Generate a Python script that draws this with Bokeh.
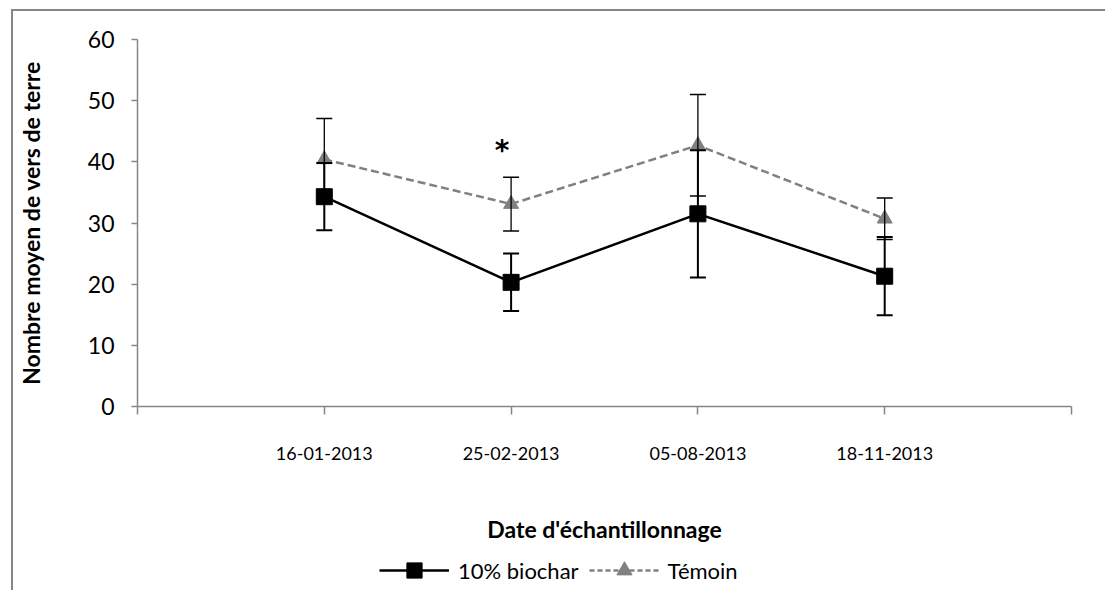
from bokeh.plotting import figure
from bokeh.layouts import column
from bokeh.models import (ColumnDataSource, Whisker, TeeHead, Legend, LegendItem,
                          FixedTicker)
from bokeh.core.properties import value
from bokeh.embed import file_html
from bokeh.resources import INLINE

# Sampling dates and mean earthworm counts (with error bar half-widths)
dates = ["16-01-2013", "25-02-2013", "05-08-2013", "18-11-2013"]
biochar = [34.3, 20.3, 31.5, 21.3]
biochar_err = [5.5, 4.7, 10.4, 6.4]
temoin = [40.4, 33.1, 42.7, 30.7]
temoin_err = [6.7, 4.4, 8.3, 3.4]
signif = ["", "*", "", ""]

FONT = "Lato"
AXIS_GREY = "#868686"
SERIES_GREY = "#808080"

xs = list(range(1, len(dates) + 1))

src_b = ColumnDataSource(dict(
    x=xs, y=biochar,
    lo=[v - e for v, e in zip(biochar, biochar_err)],
    hi=[v + e for v, e in zip(biochar, biochar_err)],
))
src_t = ColumnDataSource(dict(
    x=xs, y=temoin,
    lo=[v - e for v, e in zip(temoin, temoin_err)],
    hi=[v + e for v, e in zip(temoin, temoin_err)],
))

p = figure(width=1092, height=539, output_backend="svg", toolbar_location=None,
           x_range=(0, len(dates) + 1), y_range=(0, 60),
           min_border_left=123, min_border_right=34, min_border_top=28,
           min_border_bottom=144)
p.outline_line_color = None
p.xgrid.visible = False
p.ygrid.visible = False
p.background_fill_color = "white"
p.border_fill_color = "white"

# y axis
ya = p.yaxis[0]
ya.ticker = FixedTicker(ticks=list(range(0, 61, 10)))
ya.axis_line_color = AXIS_GREY
ya.axis_line_width = 1.5
ya.major_tick_line_color = AXIS_GREY
ya.major_tick_line_width = 1.5
ya.major_tick_out = 6
ya.major_tick_in = 0
ya.minor_tick_line_color = None
ya.major_label_text_font = FONT
ya.major_label_text_font_size = "23px"
ya.major_label_text_color = "black"
ya.major_label_standoff = 17
ya.axis_label = "Nombre moyen de vers de terre"
ya.axis_label_text_font = FONT
ya.axis_label_text_font_size = "23px"
ya.axis_label_text_font_style = "bold"
ya.axis_label_text_color = "black"
ya.axis_label_standoff = 40

# x axis
xa = p.xaxis[0]
xa.ticker = FixedTicker(ticks=list(range(0, len(dates) + 2)))
xa.major_label_overrides = {i + 1: d for i, d in enumerate(dates)} | {0: "", len(dates) + 1: ""}
xa.axis_line_color = AXIS_GREY
xa.axis_line_width = 1.5
xa.major_tick_line_color = AXIS_GREY
xa.major_tick_line_width = 1.5
xa.major_tick_out = 8
xa.major_tick_in = 0
xa.minor_tick_line_color = None
xa.major_label_text_font = FONT
xa.major_label_text_font_size = "18px"
xa.major_label_text_color = "black"
xa.major_label_standoff = 32
xa.axis_label = "Date d'échantillonnage"
xa.axis_label_text_font = FONT
xa.axis_label_text_font_size = "23px"
xa.axis_label_text_font_style = "bold"
xa.axis_label_text_color = "black"
xa.axis_label_standoff = 52

# 10% biochar series
wb = Whisker(source=src_b, base="x", upper="hi", lower="lo", dimension="height",
             line_color="black", line_width=2, level="glyph",
             upper_head=TeeHead(size=16, line_color="black", line_width=2),
             lower_head=TeeHead(size=16, line_color="black", line_width=2))
p.add_layout(wb)
p.line("x", "y", source=src_b, line_color="black", line_width=2.5)
p.scatter("x", "y", source=src_b, marker="square", size=16,
          fill_color="black", line_color="black")

# Témoin series
wt = Whisker(source=src_t, base="x", upper="hi", lower="lo", dimension="height",
             line_color="black", line_width=1.3, level="glyph",
             upper_head=TeeHead(size=16, line_color="black", line_width=1.5),
             lower_head=TeeHead(size=16, line_color="black", line_width=1.5))
p.add_layout(wt)
p.line("x", "y", source=src_t, line_color=SERIES_GREY, line_width=2.5,
       line_dash="8 4")
p.scatter("x", "y", source=src_t, marker="triangle", size=15,
          fill_color=SERIES_GREY, line_color=SERIES_GREY)

# significance mark above the Témoin error bar
src_s = ColumnDataSource(dict(
    x=xs, y=[v + e for v, e in zip(temoin, temoin_err)], t=signif))
p.text("x", "y", text="t", source=src_s, text_font=value("DejaVu Sans"),
       text_font_size="28px", text_font_style="bold", text_align="center",
       text_baseline="bottom", x_offset=-9, y_offset=-10, text_color="black")

# legend strip underneath the chart; its key renderers reuse the series data
# but sit outside this strip's visible ranges, so only the legend shows
leg = figure(width=1092, height=40, output_backend="svg", toolbar_location=None,
             x_axis_location=None, y_axis_location=None,
             min_border=0, x_range=(100, 101), y_range=(100, 101))
leg.outline_line_color = None
leg.xgrid.visible = False
leg.ygrid.visible = False
kb_line = leg.line("x", "y", source=src_b, line_color="black", line_width=2.5)
kb_mark = leg.scatter("x", "y", source=src_b, marker="square", size=15,
                      fill_color="black", line_color="black")
kt_line = leg.line("x", "y", source=src_t, line_color=SERIES_GREY,
                   line_width=2.5, line_dash="5 3")
kt_mark = leg.scatter("x", "y", source=src_t, marker="triangle", size=14,
                      fill_color=SERIES_GREY, line_color=SERIES_GREY)

legend = Legend(items=[
    LegendItem(label="10% biochar", renderers=[kb_line, kb_mark]),
    LegendItem(label="Témoin", renderers=[kt_line, kt_mark]),
], orientation="horizontal", location=(242, 1))
legend.border_line_color = None
legend.background_fill_alpha = 0
legend.label_text_font = FONT
legend.label_text_font_size = "22px"
legend.label_text_color = "black"
legend.glyph_width = 70
legend.glyph_height = 38
legend.label_height = 38
legend.padding = 0
legend.margin = 0
legend.spacing = 10
legend.label_standoff = 9
leg.add_layout(legend)

# outer chart border along the top and left edges
layout = column(p, leg, spacing=0, styles={
    "margin-left": "11px", "margin-top": "9px",
    "border-left": f"2px solid {AXIS_GREY}", "border-top": f"2px solid {AXIS_GREY}",
})

open("out.html", "w").write(file_html(layout, INLINE))
